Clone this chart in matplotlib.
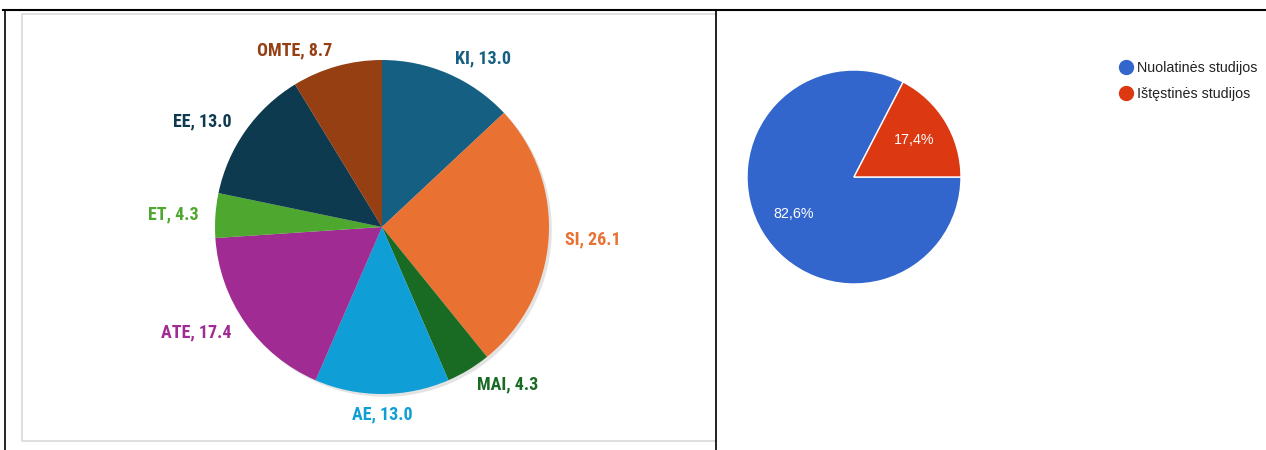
#!/usr/bin/env python3
"""Two pies side by side: study programmes (left) and study form (right)"""

import numpy as np
import matplotlib
matplotlib.use("Agg")
import matplotlib.pyplot as plt
from matplotlib.lines import Line2D
from matplotlib.patches import Rectangle

# left pie: share of respondents by programme (%)
programmes = ["KI", "SI", "MAI", "AE", "ATE", "ET", "EE", "OMTE"]
programme_share = [13.0, 26.1, 4.3, 13.0, 17.4, 4.3, 13.0, 8.7]
programme_colors = ["#156082", "#E97132", "#196B24", "#0F9ED5",
                    "#A02B93", "#4EA72E", "#0E3A50", "#953F13"]

# right pie: study form (%)
study_forms = ["Nuolatinės studijos", "Ištęstinės studijos"]
form_share = [82.6, 17.4]
form_colors = ["#3366CC", "#DC3912"]

W, H = 1266, 450
NARROW = ["Roboto Condensed", "Archivo Narrow", "Asap Condensed",
          "Liberation Sans Narrow", "DejaVu Sans"]
SANS = ["Liberation Sans", "DejaVu Sans"]


def px_axes(fig, cx, cy, r):
    """square axes centred at pixel (cx, cy) from the top-left, half-size r"""
    return fig.add_axes([(cx - r) / W, (H - cy - r) / H, 2 * r / W, 2 * r / H])


def main():
    fig = plt.figure(figsize=(W / 100, H / 100), dpi=100)

    # document table lines and the chart-area frame
    fig.add_artist(Line2D([3 / W, 1.0], [1 - 10 / H, 1 - 10 / H], color="black", lw=1.5))
    fig.add_artist(Line2D([5 / W, 5 / W], [0, 1 - 10 / H], color="black", lw=1.2))
    fig.add_artist(Line2D([716 / W, 716 / W], [0, 1 - 10 / H], color="black", lw=1.2))
    fig.add_artist(Rectangle((22 / W, 1 - 441 / H), (716 - 22) / W, (441 - 14) / H,
                             fill=False, edgecolor="#d9d9d9", lw=1.2))

    # left pie, with a faint soft shadow like the office chart
    ax = px_axes(fig, 382, 227, 167)
    wedges, _ = ax.pie(programme_share, colors=programme_colors, startangle=90,
                       counterclock=False, radius=1.0,
                       wedgeprops=dict(linewidth=0),
                       shadow=dict(ox=0.012, oy=-0.012, shade=0.0,
                                   color="#c8c8c8", alpha=0.5))
    ax.set_xlim(-1, 1)
    ax.set_ylim(-1, 1)
    for w, name, val, col in zip(wedges, programmes, programme_share, programme_colors):
        ang = np.deg2rad((w.theta1 + w.theta2) / 2)
        x, y = 1.1 * np.cos(ang), 1.1 * np.sin(ang)
        if abs(np.cos(ang)) < 0.1:
            ha = "center"
            y -= 0.02
        else:
            ha = "left" if x > 0 else "right"
        ax.text(x, y, f"{name}, {val:.1f}", ha=ha, va="center", color=col,
                fontsize=13, fontweight="bold", family=NARROW)

    # right pie
    ax2 = px_axes(fig, 854, 177, 107)
    start = 360 * form_share[1] / sum(form_share)
    wedges2, _, pcts = ax2.pie(form_share, colors=form_colors, startangle=start,
                               counterclock=True, pctdistance=0.66,
                               autopct=lambda p: f"{p:.1f}%".replace(".", ","),
                               wedgeprops=dict(edgecolor="white", linewidth=1))
    ax2.set_xlim(-1, 1)
    ax2.set_ylim(-1, 1)
    for t in pcts:
        t.set_color("white")
        t.set_fontsize(10.3)
        t.set_family(SANS)

    handles = [Line2D([], [], marker="o", ls="none", markersize=10,
                      markerfacecolor=c, markeredgecolor=c) for c in form_colors]
    fig.legend(handles, study_forms, loc="upper left",
               bbox_to_anchor=(1117 / W, 1 - 61 / H), frameon=False,
               handletextpad=0.2, labelspacing=0.85, handlelength=1.2,
               prop=dict(family=SANS, size=10.3),
               labelcolor="#222222", borderaxespad=0, borderpad=0)

    fig.savefig("out.png", dpi=100)


if __name__ == "__main__":
    main()
